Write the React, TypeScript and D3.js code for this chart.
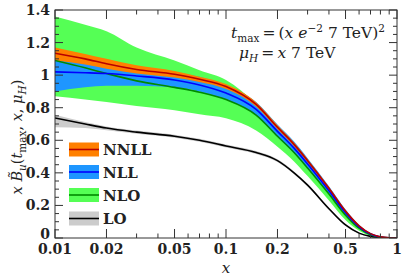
import React from "react";
import * as d3 from "d3";

const xs = [0.01, 0.015, 0.02, 0.03, 0.05, 0.07, 0.1, 0.15, 0.2, 0.25, 0.3, 0.4, 0.5, 0.6, 0.7, 0.8, 0.9, 1.0];

const nnll = [1.135, 1.1, 1.07, 1.035, 1.005, 0.975, 0.93, 0.82, 0.68, 0.575, 0.475, 0.305, 0.165, 0.075, 0.027, 0.007, 0.001, 0];
const nnllHi = [1.17, 1.13, 1.1, 1.06, 1.025, 0.99, 0.945, 0.833, 0.692, 0.586, 0.485, 0.313, 0.171, 0.079, 0.029, 0.008, 0.001, 0];
const nnllLo = [1.09, 1.065, 1.04, 1.01, 0.985, 0.958, 0.915, 0.807, 0.668, 0.564, 0.465, 0.297, 0.159, 0.071, 0.025, 0.006, 0.001, 0];

const nll = [1.02, 1.015, 1.01, 0.995, 0.97, 0.94, 0.89, 0.79, 0.655, 0.552, 0.455, 0.29, 0.155, 0.069, 0.024, 0.006, 0.001, 0];
const nllHi = [1.14, 1.1, 1.075, 1.05, 1.02, 0.99, 0.94, 0.835, 0.697, 0.592, 0.49, 0.318, 0.175, 0.081, 0.03, 0.008, 0.001, 0];
const nllLo = [0.9, 0.925, 0.935, 0.935, 0.925, 0.9, 0.85, 0.752, 0.62, 0.52, 0.425, 0.268, 0.14, 0.06, 0.02, 0.005, 0.001, 0];

const nlo = [1.09, 1.045, 1.01, 0.965, 0.925, 0.895, 0.85, 0.755, 0.625, 0.525, 0.43, 0.27, 0.14, 0.06, 0.02, 0.005, 0.001, 0];
const nloHi = [1.36, 1.31, 1.27, 1.17, 1.09, 1.03, 0.97, 0.82, 0.665, 0.558, 0.46, 0.29, 0.152, 0.066, 0.023, 0.006, 0.001, 0];
const nloLo = [0.87, 0.85, 0.835, 0.81, 0.785, 0.76, 0.735, 0.66, 0.56, 0.47, 0.38, 0.23, 0.11, 0.044, 0.013, 0.003, 0.0005, 0];

const lo = [0.737, 0.7, 0.675, 0.65, 0.625, 0.6, 0.565, 0.525, 0.475, 0.4, 0.325, 0.18, 0.08, 0.03, 0.01, 0.003, 0.0005, 0];
const loHi = [0.757, 0.712, 0.685, 0.66, 0.634, 0.609, 0.574, 0.534, 0.484, 0.409, 0.333, 0.187, 0.086, 0.034, 0.012, 0.004, 0.001, 0];
const loLo = [0.68, 0.675, 0.662, 0.64, 0.616, 0.591, 0.556, 0.516, 0.466, 0.391, 0.317, 0.173, 0.074, 0.026, 0.008, 0.002, 0, 0];

const xMajor = [0.01, 0.02, 0.05, 0.1, 0.2, 0.5, 1];
const xMajorLabels = ["0.01", "0.02", "0.05", "0.1", "0.2", "0.5", "1"];
const xMinor = [0.03, 0.04, 0.06, 0.07, 0.08, 0.09, 0.3, 0.4, 0.6, 0.7, 0.8, 0.9];
const yMajor = [0, 0.2, 0.4, 0.6, 0.8, 1.0, 1.2, 1.4];
const yMajorLabels = ["0", "0.2", "0.4", "0.6", "0.8", "1", "1.2", "1.4"];

const legendNames = ["NNLL", "NLL", "NLO", "LO"];
const bandColors = ["#ff8000", "#1e96ff", "#55ff55", "#cccccc"];
const lineColors = ["#b80000", "#0000ff", "#008a00", "#000000"];

const L = 55, R = 397, T = 10, B = 238;
const FONT = "'DejaVu Serif', 'Liberation Serif', serif";

export default function App() {
  const x = d3.scaleLog().domain([0.01, 1]).range([L, R]);
  const y = d3.scaleLinear().domain([0, 1.4]).range([B, T]);

  const area = (hi: number[], lw: number[]) =>
    d3.area<number>().x((_, i) => x(xs[i])).y0((_, i) => y(lw[i])).y1((_, i) => y(hi[i])).curve(d3.curveMonotoneX)(xs) || "";
  const line = (v: number[]) =>
    d3.line<number>().x((_, i) => x(xs[i])).y((_, i) => y(v[i])).curve(d3.curveMonotoneX)(xs) || "";

  const yMinor: number[] = d3.range(0, 1.4001, 0.05).filter((v) => Math.abs(v / 0.2 - Math.round(v / 0.2)) > 0.01);

  const bands = [
    { hi: nloHi, lo: nloLo, c: bandColors[2] },
    { hi: nllHi, lo: nllLo, c: bandColors[1] },
    { hi: nnllHi, lo: nnllLo, c: bandColors[0] },
    { hi: loHi, lo: loLo, c: bandColors[3] },
  ];
  const lines = [
    { v: lo, c: lineColors[3] },
    { v: nlo, c: lineColors[2] },
    { v: nll, c: lineColors[1] },
    { v: nnll, c: lineColors[0] },
  ];

  const axisColor = "#333";
  const legendY = [149.5, 172, 195, 218.5];

  return (
    <svg width={407} height={279} style={{ position: "absolute", left: 0, top: 0 }} fontFamily={FONT}>
      <rect x={0} y={0} width={407} height={279} fill="#fff" />
      <defs>
        <clipPath id="plot">
          <rect x={L} y={T} width={R - L} height={B - T} />
        </clipPath>
      </defs>
      <g clipPath="url(#plot)">
        {bands.map((b, i) => (
          <path key={i} d={area(b.hi, b.lo)} fill={b.c} stroke="none" />
        ))}
        {lines.map((l, i) => (
          <path key={i} d={line(l.v)} fill="none" stroke={l.c} strokeWidth={1.6} />
        ))}
      </g>
      <rect x={L} y={T} width={R - L} height={B - T} fill="none" stroke={axisColor} strokeWidth={1} />
      {xMajor.map((v) => (
        <g key={"xM" + v}>
          <line x1={x(v)} x2={x(v)} y1={B} y2={B - 9} stroke={axisColor} />
          <line x1={x(v)} x2={x(v)} y1={T} y2={T + 9} stroke={axisColor} />
        </g>
      ))}
      {xMinor.map((v) => (
        <g key={"xm" + v}>
          <line x1={x(v)} x2={x(v)} y1={B} y2={B - 4.5} stroke={axisColor} />
          <line x1={x(v)} x2={x(v)} y1={T} y2={T + 4.5} stroke={axisColor} />
        </g>
      ))}
      {yMajor.map((v) => (
        <g key={"yM" + v}>
          <line x1={L} x2={L + 8} y1={y(v)} y2={y(v)} stroke={axisColor} />
          <line x1={R} x2={R - 8} y1={y(v)} y2={y(v)} stroke={axisColor} />
        </g>
      ))}
      {yMinor.map((v) => (
        <g key={"ym" + v}>
          <line x1={L} x2={L + 4} y1={y(v)} y2={y(v)} stroke={axisColor} />
          <line x1={R} x2={R - 4} y1={y(v)} y2={y(v)} stroke={axisColor} />
        </g>
      ))}
      {xMajor.map((v, i) => (
        <text key={"xl" + v} x={x(v)} y={254} textAnchor="middle" fontSize={14} fontWeight="bold" fill="#222">
          {xMajorLabels[i]}
        </text>
      ))}
      {yMajor.map((v, i) => (
        <text key={"yl" + v} x={50} y={v === 0 ? 239 : y(v) + 5} textAnchor="end" fontSize={14} fontWeight="bold" fill="#222">
          {yMajorLabels[i]}
        </text>
      ))}
      <text x={(L + R) / 2} y={273} textAnchor="middle" fontSize={15} fontStyle="italic" fill="#222">x</text>
      <text transform="translate(22,137) rotate(-90)" textAnchor="middle" fontSize={14.5} fill="#222">
        <tspan fontStyle="italic">x</tspan>
        <tspan> </tspan>
        <tspan fontStyle="italic">{"B\u0303"}</tspan>
        <tspan fontSize={10.5} dy={4} fontStyle="italic">u</tspan>
        <tspan dy={-4}>(</tspan>
        <tspan fontStyle="italic">t</tspan>
        <tspan fontSize={10.5} dy={4}>max</tspan>
        <tspan dy={-4}>, </tspan>
        <tspan fontStyle="italic">x</tspan>
        <tspan>, </tspan>
        <tspan fontStyle="italic">μ</tspan>
        <tspan fontSize={10.5} dy={4} fontStyle="italic">H</tspan>
        <tspan dy={-4}>)</tspan>
      </text>
      <text x={231} y={38} fontSize={15.5} fill="#222">
        <tspan fontStyle="italic">t</tspan>
        <tspan fontSize={10.5} dy={4}>max</tspan>
        <tspan dy={-4}>{"\u2009=\u2009("}</tspan>
        <tspan fontStyle="italic">x</tspan>
        <tspan fontStyle="italic">{" e"}</tspan>
        <tspan fontSize={10.5} dy={-6}>−2</tspan>
        <tspan dy={6}>{" 7 TeV)"}</tspan>
        <tspan fontSize={10.5} dy={-6}>2</tspan>
      </text>
      <text x={239} y={58} fontSize={15.5} fill="#222">
        <tspan fontStyle="italic">μ</tspan>
        <tspan fontSize={10.5} dy={4} fontStyle="italic">H</tspan>
        <tspan dy={-4}>{"\u2009=\u2009"}</tspan>
        <tspan fontStyle="italic">x</tspan>
        <tspan>{" 7 TeV"}</tspan>
      </text>
      {legendNames.map((n, i) => (
        <g key={n}>
          <rect x={69} y={legendY[i] - 7} width={30} height={14} fill={bandColors[i]} />
          <line x1={69} x2={99} y1={legendY[i]} y2={legendY[i]} stroke={lineColors[i]} strokeWidth={1.6} />
          <text x={103} y={legendY[i] + 5.5} fontSize={15} fontWeight="bold" fill="#222">{n}</text>
        </g>
      ))}
    </svg>
  );
}
